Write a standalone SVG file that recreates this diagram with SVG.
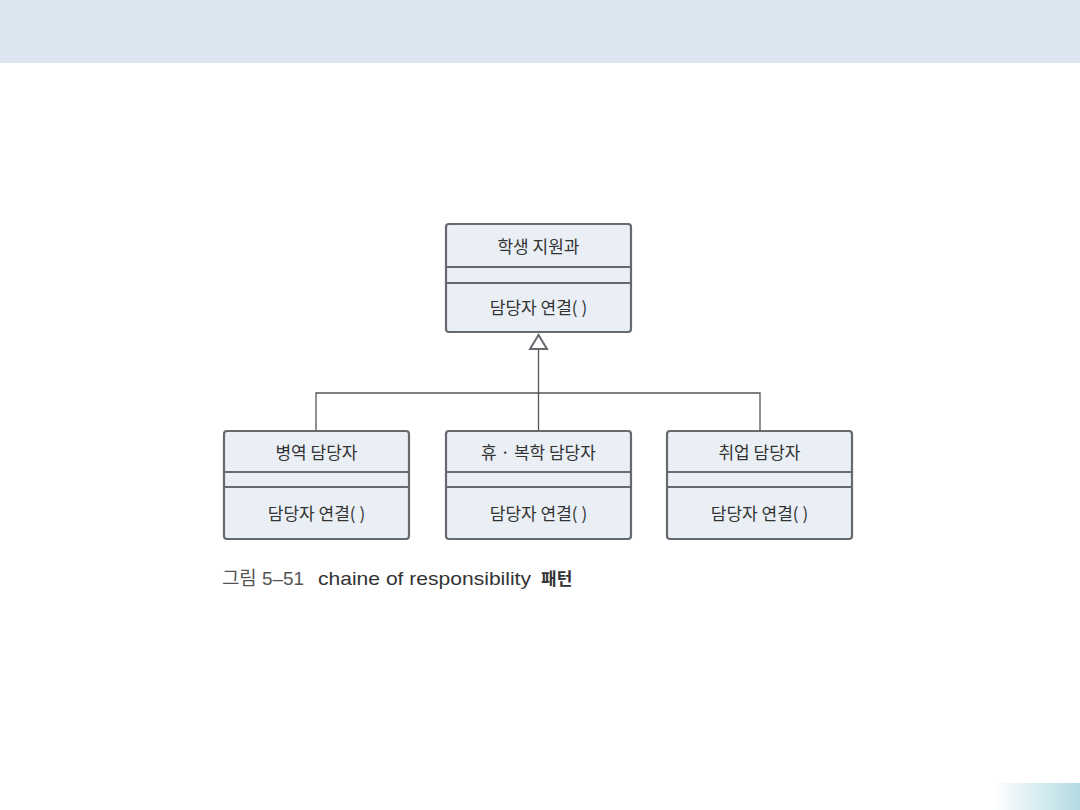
<svg xmlns="http://www.w3.org/2000/svg" width="1080" height="810" viewBox="0 0 1080 810">
<defs>
<linearGradient id="g" x1="0" y1="0" x2="1" y2="0">
<stop offset="0" stop-color="#ffffff"/>
<stop offset="1" stop-color="#b3dbe3"/>
</linearGradient>
<style>
.box{fill:#e9eff5;stroke:#666a6e;stroke-width:2.2}
.div{stroke:#666a6e;stroke-width:2.2}
.t{font-family:"Noto Sans CJK KR","Noto Sans",sans-serif;font-size:17px;fill:#333;text-anchor:middle}
.c{stroke:#555;stroke-width:1.3;fill:none}
</style>
</defs>
<rect width="1080" height="810" fill="#fff"/>
<rect x="0" y="0" width="1080" height="63" fill="#dce6f1"/>
<rect x="993" y="783" width="87" height="27" fill="url(#g)"/>
<g id="connectors">
<line class="c" x1="538.5" y1="349" x2="538.5" y2="431"/>
<polyline class="c" points="316,431 316,393 760,393 760,431"/>
<polygon points="538.5,335 530,349 547,349" fill="#fff" stroke="#666a6e" stroke-width="2"/>
</g>
<g id="node-top">
<rect class="box" x="446" y="224" width="185" height="108" rx="3"/>
<line class="div" x1="446" y1="267" x2="631" y2="267"/>
<line class="div" x1="446" y1="283" x2="631" y2="283"/>
<text class="t" x="538.5" y="253">학생 지원과</text>
<text class="t" x="538.5" y="314">담당자 연결( )</text>
</g>
<g id="node-1">
<rect class="box" x="224" y="431" width="185" height="108" rx="3"/>
<line class="div" x1="224" y1="472" x2="409" y2="472"/>
<line class="div" x1="224" y1="487" x2="409" y2="487"/>
<text class="t" x="316.5" y="459">병역 담당자</text>
<text class="t" x="316.5" y="520">담당자 연결( )</text>
</g>
<g id="node-2">
<rect class="box" x="446" y="431" width="185" height="108" rx="3"/>
<line class="div" x1="446" y1="472" x2="631" y2="472"/>
<line class="div" x1="446" y1="487" x2="631" y2="487"/>
<text class="t" x="538.5" y="459">휴 · 복학 담당자</text>
<text class="t" x="538.5" y="520">담당자 연결( )</text>
</g>
<g id="node-3">
<rect class="box" x="667" y="431" width="185" height="108" rx="3"/>
<line class="div" x1="667" y1="472" x2="852" y2="472"/>
<line class="div" x1="667" y1="487" x2="852" y2="487"/>
<text class="t" x="759.5" y="459">취업 담당자</text>
<text class="t" x="759.5" y="520">담당자 연결( )</text>
</g>
<g id="caption">
<text x="222" y="585" font-family="'Liberation Sans','Noto Sans CJK KR',sans-serif" font-size="19" fill="#555" textLength="82" lengthAdjust="spacingAndGlyphs">그림 5–51</text>
<text x="318" y="585" font-family="'Liberation Sans','Noto Sans CJK KR',sans-serif" font-size="19" fill="#333" textLength="213" lengthAdjust="spacingAndGlyphs">chaine of responsibility</text>
<text x="541" y="585" font-family="'Noto Sans CJK KR',sans-serif" font-size="17" font-weight="bold" fill="#333">패턴</text>
</g>
</svg>
